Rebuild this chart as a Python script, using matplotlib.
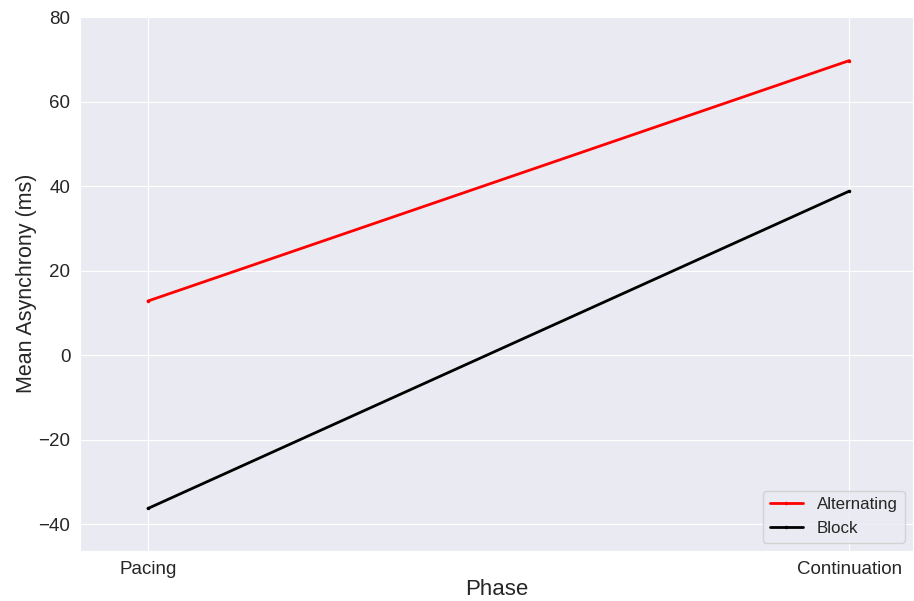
import matplotlib
matplotlib.use("Agg")
import matplotlib.pyplot as plt
import seaborn as sns

phases = ["Pacing", "Continuation"]
alternating = [12.8, 69.7]
block = [-36.3, 38.8]

sns.set_style("darkgrid")
plt.rcParams["font.family"] = ["Liberation Sans", "DejaVu Sans"]

fig, ax = plt.subplots(figsize=(9.14, 6.01), dpi=100)
x = list(range(len(phases)))
ax.plot(x, alternating, color="red", lw=2, marker=".", markersize=3, label="Alternating")
ax.plot(x, block, color="black", lw=2, marker=".", markersize=3, label="Block")

ax.set_xticks(x)
ax.set_xticklabels(phases)
ax.set_xlim(-0.097, 1.091)
ax.set_ylim(-46.4, 80.2)
ax.tick_params(labelsize=13.5)
ax.set_xlabel("Phase", fontsize=16, labelpad=1)
ax.set_ylabel("Mean Asynchrony (ms)", fontsize=15.5, labelpad=1)
ax.legend(loc="lower right", fontsize=12.2)

fig.subplots_adjust(left=0.0875, right=0.999, top=0.973, bottom=0.083)
fig.savefig("out.png", dpi=100)
